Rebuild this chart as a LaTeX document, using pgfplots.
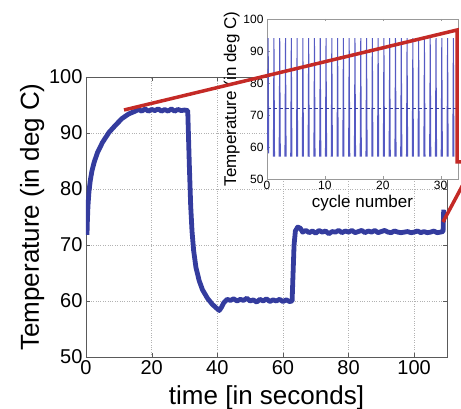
\documentclass[border=0pt]{standalone}
\usepackage{fontspec}
\setmainfont{Liberation Sans}
\usepackage{pgfplots}
\pgfplotsset{compat=1.18}
\definecolor{mblue}{RGB}{52,60,158}
\definecolor{sblue}{RGB}{85,90,195}
\definecolor{mred}{RGB}{196,42,38}
\definecolor{axgray}{RGB}{90,90,90}
\begin{document}
\begin{tikzpicture}
\path[use as bounding box] (0pt,0pt) rectangle (461pt,409pt);
\begin{axis}[
  at={(86pt,52pt)}, anchor=south west,
  width=361pt, height=280pt, scale only axis,
  xmin=0, xmax=110, ymin=50, ymax=100,
  xtick={0,20,...,100}, ytick={50,60,...,100},
  grid=major, grid style={dotted, gray!60},
  axis line style={axgray}, tick style={axgray},
  major tick length=4pt,
  tick label style={font=\fontsize{20}{22}\selectfont},
  /pgf/number format/assume math mode=true,
  xlabel={time [in seconds]},
  ylabel={Temperature (in deg C)},
  label style={font=\fontsize{26}{28}\selectfont},
  xlabel style={yshift=-4pt},
  ylabel style={yshift=-2pt},
]
\addplot[mblue, line width=4.8pt, line join=round] coordinates {
(0.3,71.8) (0.4,74) (0.6,77) (0.9,79.5) (1.3,81.5) (1.8,83.2) (2.5,84.8)
(3.5,86.5) (5,88.3) (7,90.1) (9,91.4) (11,92.6) (13,93.4) (15,93.9)
(16,94.2) (17,93.9) (18,94.3) (19,93.9) (20,94.2) (21,94.0) (22,94.3)
(23,93.9) (24,94.2) (25,93.9) (26,94.3) (27,93.9) (28,94.2) (29,94.0)
(30,94.1) (31.0,94.0) (31.2,90) (31.5,84) (31.9,77) (32.3,72.5) (32.8,69)
(33.5,66) (34.5,63.6) (35.5,62) (37,60.5) (38.5,59.4) (40,58.6) (40.6,58.3)
(41.2,58.8) (42,59.7) (43,60.3) (44,60.1) (45,60.4) (46,60.0) (47,60.3)
(48,60.1) (49,60.5) (50,60.0) (51,60.2) (52,59.8) (53,60.3) (54,60.0)
(55,60.4) (56,59.9) (57,60.2) (58,60.0) (59,60.3) (60,59.9) (61,60.2)
(62,59.9) (62.8,60.0) (63.1,65) (63.4,70) (63.8,72.5) (64.5,73.2) (65.3,73.0)
(66,72.3) (67,72.6) (68,72.2) (69,72.5) (70,72.1) (71,72.6) (72,72.3)
(73,72.5) (74,72.0) (75,72.4) (76,72.3) (77,72.6) (78,72.2) (79,72.5)
(80,72.3) (81,72.6) (82,72.2) (83,72.4) (84,72.6) (85,72.2) (86,72.5)
(87,72.3) (88,72.6) (89,72.2) (90,72.4) (91,72.6) (92,72.3) (93,72.2)
(94,72.5) (95,72.3) (96,72.2) (97,72.3) (98,72.4) (99,72.2) (100,72.3)
(101,72.5) (102,72.2) (103,72.4) (104,72.2) (105,72.3) (106,72.5) (107,72.2)
(108,72.3) (108.8,72.4) (109.0,76.3)
};
\end{axis}
\begin{axis}[
  at={(267pt,230pt)}, anchor=south west,
  width=191pt, height=160pt, scale only axis,
  xmin=0, xmax=33, ymin=50, ymax=100,
  xtick={0,10,20,30}, ytick={50,60,...,100},
  axis background/.style={fill=white},
  axis line style={gray!80}, tick style={gray!80},
  major tick length=2.5pt,
  tick label style={font=\fontsize{12}{13}\selectfont},
  xticklabel style={yshift=1pt},
  /pgf/number format/assume math mode=true,
  xlabel={cycle number},
  ylabel={Temperature (in deg C)},
  label style={font=\fontsize{17}{18}\selectfont},
  xlabel style={yshift=2pt},
  ylabel style={yshift=-3pt},
  unbounded coords=jump,
]
\addplot[sblue, line width=1pt] coordinates {
(0.1,59) (0.2,94) (0.3,58) (0.4,nan)
(1.1,57) (1.2,94) (1.3,57) (1.4,nan)
(2.1,57) (2.2,94) (2.3,57) (2.4,nan)
(3.1,57) (3.2,94) (3.3,57) (3.4,nan)
(4.1,57) (4.2,94) (4.3,57) (4.4,nan)
(5.1,57) (5.2,94) (5.3,57) (5.4,nan)
(6.1,57) (6.2,94) (6.3,57) (6.4,nan)
(7.1,57) (7.2,94) (7.3,57) (7.4,nan)
(8.1,57) (8.2,94) (8.3,57) (8.4,nan)
(9.1,57) (9.2,94) (9.3,57) (9.4,nan)
(10.1,57) (10.2,94) (10.3,57) (10.4,nan)
(11.1,57) (11.2,94) (11.3,57) (11.4,nan)
(12.1,57) (12.2,94) (12.3,57) (12.4,nan)
(13.1,57) (13.2,94) (13.3,57) (13.4,nan)
(14.1,57) (14.2,94) (14.3,57) (14.4,nan)
(15.1,57) (15.2,94) (15.3,57) (15.4,nan)
(16.1,57) (16.2,94) (16.3,57) (16.4,nan)
(17.1,57) (17.2,94) (17.3,57) (17.4,nan)
(18.1,57) (18.2,94) (18.3,57) (18.4,nan)
(19.1,57) (19.2,94) (19.3,57) (19.4,nan)
(20.1,57) (20.2,94) (20.3,57) (20.4,nan)
(21.1,57) (21.2,94) (21.3,57) (21.4,nan)
(22.1,57) (22.2,94) (22.3,57) (22.4,nan)
(23.1,57) (23.2,94) (23.3,57) (23.4,nan)
(24.1,57) (24.2,94) (24.3,57) (24.4,nan)
(25.1,57) (25.2,94) (25.3,57) (25.4,nan)
(26.1,57) (26.2,94) (26.3,57) (26.4,nan)
(27.1,57) (27.2,94) (27.3,57) (27.4,nan)
(28.1,57) (28.2,94) (28.3,57) (28.4,nan)
(29.1,57) (29.2,94) (29.3,57) (29.4,nan)
(30.1,57) (30.2,94) (30.3,57) (30.4,nan)
(31.1,57) (31.2,94) (31.3,57) (31.4,nan)
(32.1,57) (32.2,94) (32.3,57)
};
\addplot[mblue, only marks, mark=-, mark size=1.6pt, mark options={line width=1.6pt}] coordinates {
(0.45,72) (1.45,72) (2.45,72) (3.45,72) (4.45,72) (5.45,72) (6.45,72) (7.45,72)
(8.45,72) (9.45,72) (10.45,72) (11.45,72) (12.45,72) (13.45,72) (14.45,72) (15.45,72)
(16.45,72) (17.45,72) (18.45,72) (19.45,72) (20.45,72) (21.45,72) (22.45,72) (23.45,72)
(24.45,72) (25.45,72) (26.45,72) (27.45,72) (28.45,72) (29.45,72) (30.45,72) (31.45,72)
(32.45,72)
};
\end{axis}
\draw[mred, line width=3.5pt, line join=miter]
  (124pt,299pt) -- (457pt,379pt) -- (457pt,247pt) -- (470pt,247pt);
\draw[mred, line width=3.5pt] (443pt,187pt) -- (475pt,247pt);
\end{tikzpicture}
\end{document}
